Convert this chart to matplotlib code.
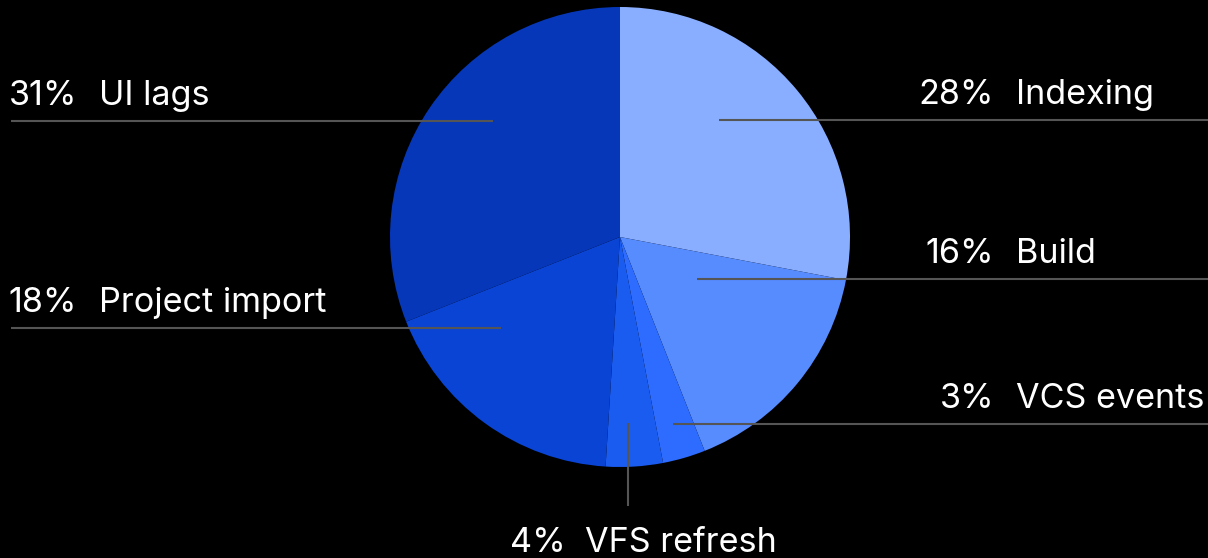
import matplotlib
matplotlib.use("Agg")
import matplotlib.pyplot as plt

# ==============================
# Data
# ==============================
categories = ["Indexing", "Build", "VCS events", "VFS refresh", "Project import", "UI lags"]
shares = [28, 16, 3, 4, 18, 31]
colors = ["#8aaeff", "#578cff", "#2d6cff", "#1b5cf0", "#0a44d5", "#0637b9"]

# ==============================
# Layout (pixel coords, y from top)
# ==============================
W, H = 1208, 558
CENTER = (620, 237)
RADIUS = 230
# leader line: (anchor x, anchor y, side)
leaders = {
    "Indexing":       (719, 120, "right"),
    "Build":          (697, 279, "right"),
    "VCS events":     (673, 424, "right"),
    "VFS refresh":    (628, 423, "bottom"),
    "Project import": (501, 328, "left"),
    "UI lags":        (493, 121, "left"),
}
LINE_COLOR = "#555555"
FONT = "Inter"
FS = 24.6

fig = plt.figure(figsize=(W / 100, H / 100), dpi=100, facecolor="black")
ax = fig.add_axes([0, 0, 1, 1])
ax.set_facecolor("black")

ax.pie(
    shares,
    colors=colors,
    startangle=90,
    counterclock=False,
    center=(CENTER[0], H - CENTER[1]),
    radius=RADIUS,
    wedgeprops=dict(linewidth=0),
    frame=True,
)
ax.set_xlim(0, W)
ax.set_ylim(0, H)
ax.set_aspect("equal")
ax.axis("off")

txt = dict(color="white", fontsize=FS, family=FONT, va="baseline")

for name, share in zip(categories, shares):
    x, y, side = leaders[name]
    yd = H - y
    pct = f"{share}%"
    if side == "right":
        ax.plot([x, W], [yd, yd], color=LINE_COLOR, lw=1.5, solid_capstyle="butt")
        ax.text(994, yd + 16, pct, ha="right", **txt)
        ax.text(1016, yd + 16, name, ha="left", **txt)
    elif side == "left":
        ax.plot([11, x], [yd, yd], color=LINE_COLOR, lw=1.5, solid_capstyle="butt")
        ax.text(77, yd + 16, pct, ha="right", **txt)
        ax.text(99, yd + 16, name, ha="left", **txt)
    else:
        ax.plot([x, x], [yd, H - 506], color=LINE_COLOR, lw=1.5, solid_capstyle="butt")
        ax.text(643, H - 552, f"{pct}  {name}", ha="center", **txt)

fig.savefig("out.png", dpi=100, facecolor="black")
